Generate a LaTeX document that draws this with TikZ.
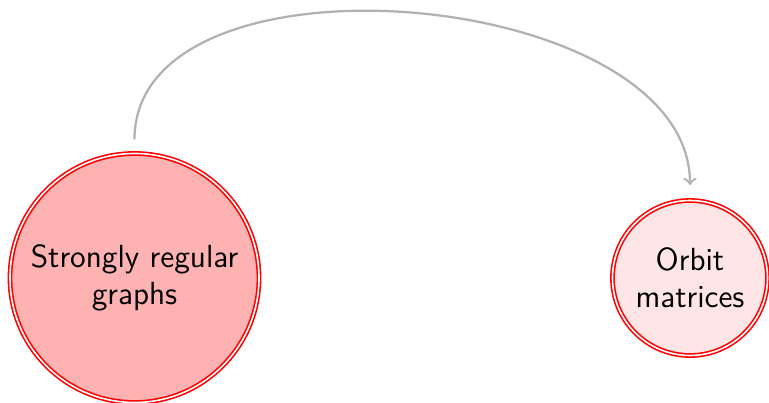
\documentclass[tikz,border=0pt]{standalone}
\usepackage{tikz}
\begin{document}
\begin{tikzpicture}[x=0.375pt,y=-0.375pt,
  topic/.style={circle, draw=red, double, double distance=0.6pt, line width=0.6pt, align=center, font=\sffamily\large, inner sep=0pt},
  link/.style={->, draw=black!30, line width=0.85pt, shorten <=5pt, shorten >=5.5pt}]
\useasboundingbox (0,0) rectangle (769,403);
\node[topic, fill=red!30, minimum size=249*0.375pt] (srg) at (134.5,278) {Strongly regular\\graphs};
\node[topic, fill=red!10, minimum size=155*0.375pt] (om) at (690,278) {Orbit\\matrices};
\draw[link] (srg) to[out=90,in=90,looseness=0.98] (om);
\end{tikzpicture}
\end{document}
